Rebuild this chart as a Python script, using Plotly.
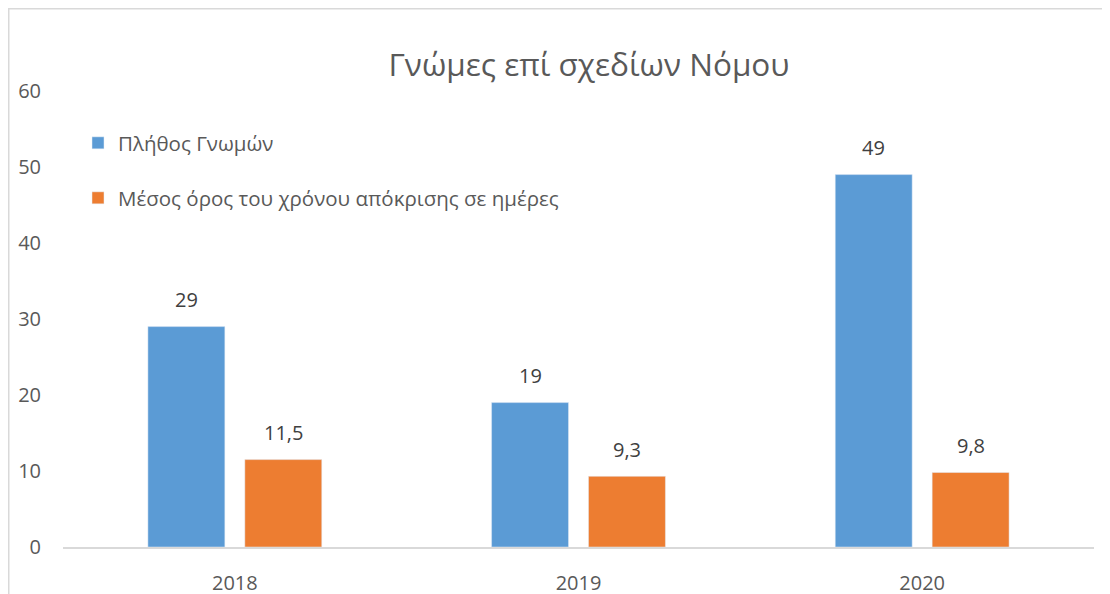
import plotly.graph_objects as go

years = ["2018", "2019", "2020"]
opinions = [29, 19, 49]
avg_days = [11.5, 9.3, 9.8]
series_names = ["Πλήθος Γνωμών", "Μέσος όρος του χρόνου απόκρισης σε ημέρες"]
title_text = "Γνώμες επί σχεδίων Νόμου"

FONT = "Open Sans"
BLUE = "#5B9BD5"
ORANGE = "#ED7D31"
TXT = "#595959"

# page body has an 8px margin: screen px = figure px + OFF
OFF = 8
W, H = 1110, 594
SX0, SX1, SY0, SY1 = 63, 1094, 91, 547
L, T = SX0 - OFF, SY0 - OFF
R, B = W - (SX1 - OFF), H - (SY1 - OFF)
pw, ph = W - L - R, H - T - B

def px_x(sx):
    return (sx - SX0) / pw

def px_y(sy):
    return (SY1 - sy) / ph

fig = go.Figure()
fig.add_trace(go.Bar(
    x=years, y=opinions, name=series_names[0], marker_color=BLUE, legend="legend",
))
fig.add_trace(go.Bar(
    x=years, y=avg_days, name=series_names[1], marker_color=ORANGE, legend="legend2",
))

def fmt(v):
    return (f"{v:g}").replace(".", ",")

slot_half = 48.5
for vals, shift in ((opinions, -slot_half), (avg_days, slot_half)):
    for i, v in enumerate(vals):
        fig.add_annotation(x=i, y=v, xref="x", yref="y", text=fmt(v), showarrow=False,
                           xshift=shift, yshift=27, yanchor="middle",
                           font=dict(family=FONT, size=20, color="#404040"))

fig.update_layout(
    width=W, height=H,
    margin=dict(l=L, r=R, t=T, b=B, autoexpand=False),
    paper_bgcolor="white", plot_bgcolor="white",
    barmode="group", bargap=0.436, bargroupgap=0.206,
    title=dict(text=title_text, x=(589 - OFF) / W, xref="container", xanchor="center",
               y=1 - (65 - OFF) / H, yref="container", yanchor="middle",
               font=dict(family=FONT, size=31.5, color=TXT)),
    font=dict(family=FONT, color=TXT),
    legend=dict(x=px_x(78), y=px_y(143), xanchor="left", yanchor="middle",
                font=dict(family=FONT, size=20.5, color=TXT), bgcolor="rgba(0,0,0,0)",
                itemwidth=30),
    legend2=dict(x=px_x(78), y=px_y(198), xanchor="left", yanchor="middle",
                 font=dict(family=FONT, size=20.5, color=TXT), bgcolor="rgba(0,0,0,0)",
                 itemwidth=30),
    showlegend=True,
    xaxis=dict(type="category", categoryorder="array", categoryarray=years,
               range=[-0.5, len(years) - 0.5], showline=True, linecolor="#d9d9d9", linewidth=2,
               showgrid=False, automargin=False,
               ticks="outside", ticklen=17, tickcolor="rgba(0,0,0,0)",
               tickfont=dict(family=FONT, size=20, color=TXT)),
    yaxis=dict(range=[0, 60], dtick=10, showline=False, showgrid=False, zeroline=False,
               automargin=False,
               ticks="outside", ticklen=17, tickcolor="rgba(0,0,0,0)",
               tickfont=dict(family=FONT, size=20, color=TXT)),
)

# outer chart border (its right and bottom edges lie outside the view)
fig.add_shape(type="rect", xref="paper", yref="paper",
              x0=px_x(OFF), x1=px_x(W + 40), y0=px_y(H + 40), y1=px_y(OFF),
              line=dict(color="#d9d9d9", width=3), fillcolor="rgba(0,0,0,0)", layer="below")

fig.write_html("out.html")
